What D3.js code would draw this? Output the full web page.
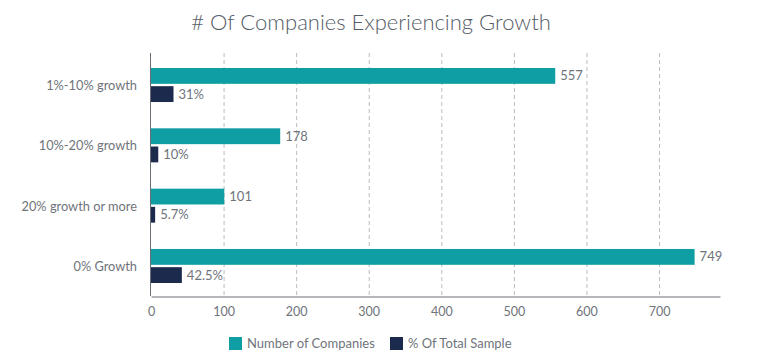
<!DOCTYPE html>
<html>
<head>
<meta charset="utf-8">
<script src="https://cdn.jsdelivr.net/npm/d3@7"></script>
<style>
  body { margin: 0; background: #fff; font-family: Lato, "Open Sans", sans-serif; }
  .tick text { fill: #6f747b; font-size: 12.5px; font-family: Lato, sans-serif; }
</style>
</head>
<body>
<div id="chart"></div>
<script>
// data
const categories = ['1%-10% growth', '10%-20% growth', '20% growth or more', '0% Growth'];
const companies = [557, 178, 101, 749];
const percentValues = [31, 10, 5.7, 42.5];
const percentLabels = ['31%', '10%', '5.7%', '42.5%'];
const xTicks = [0, 100, 200, 300, 400, 500, 600, 700];
const seriesNames = ['Number of Companies', '% Of Total Sample'];
const seriesColors = ['#0f9ea3', '#1b2a4d'];

const width = 773, height = 363;
const margin = {top: 53, right: 53, bottom: 67, left: 151};

const svg = d3.select('#chart').append('svg')
    .attr('width', width)
    .attr('height', height);

// title
svg.append('text')
    .attr('x', 371)
    .attr('y', 30)
    .attr('text-anchor', 'middle')
    .style('font-size', '22px')
    .style('font-weight', 300)
    .style('fill', '#555c66')
    .text('# Of Companies Experiencing Growth');

// scales
let x = d3.scaleLinear()
    .domain([0, 784])
    .range([margin.left, width - margin.right]);

let y0 = d3.scaleBand()
    .domain(categories)
    .range([margin.top + 1, height - margin.bottom + 1])
    .paddingInner(0.436)
    .paddingOuter(0.232);

let y1 = d3.scaleBand()
    .domain([0, 1])
    .range([0, y0.bandwidth()])
    .paddingInner(0.13);

// gridlines
svg.append('g')
    .selectAll('line')
    .data(xTicks.slice(1))
    .join('line')
    .attr('x1', d => x(d) + 0.5)
    .attr('x2', d => x(d) + 0.5)
    .attr('y1', margin.top)
    .attr('y2', height - margin.bottom)
    .attr('stroke', '#b9bcc0')
    .attr('stroke-dasharray', '4,3');

// x axis
let xAxis = svg.append('g')
    .attr('transform', `translate(0, ${height - margin.bottom + 0.5})`)
    .call(d3.axisBottom(x).tickValues(xTicks).tickSize(0).tickPadding(11));
xAxis.select('.domain').attr('stroke', '#6b6f75');

// left axis line
svg.append('line')
    .attr('x1', margin.left - 0.5)
    .attr('x2', margin.left - 0.5)
    .attr('y1', margin.top)
    .attr('y2', height - margin.bottom)
    .attr('stroke', '#6b6f75');

// category labels
svg.append('g')
    .selectAll('text')
    .data(categories)
    .join('text')
    .attr('x', margin.left - 14)
    .attr('y', d => y0(d) + y0.bandwidth() / 2 + 5)
    .attr('text-anchor', 'end')
    .style('font-size', '12.8px')
    .style('fill', '#6f747b')
    .text(d => d);

// bars
let rows = categories.map((c, i) => ({
    category: c,
    vals: [
        {series: 0, value: companies[i], label: String(companies[i])},
        {series: 1, value: percentValues[i], label: percentLabels[i]}
    ]
}));

let groups = svg.append('g')
    .selectAll('g')
    .data(rows)
    .join('g')
    .attr('transform', d => `translate(0, ${y0(d.category)})`);

groups.selectAll('rect')
    .data(d => d.vals)
    .join('rect')
    .attr('x', x(0))
    .attr('y', d => y1(d.series))
    .attr('width', d => x(d.value) - x(0))
    .attr('height', y1.bandwidth())
    .attr('fill', d => seriesColors[d.series]);

groups.selectAll('text')
    .data(d => d.vals)
    .join('text')
    .attr('x', d => x(d.value) + 5)
    .attr('y', d => y1(d.series) + y1.bandwidth() / 2 + 4.5)
    .style('font-size', '13px')
    .style('fill', '#6f747b')
    .text(d => d.label);

// legend
let legendX = [229, 390];
let legend = svg.append('g')
    .selectAll('g')
    .data(seriesNames)
    .join('g')
    .attr('transform', (d, i) => `translate(${legendX[i]}, 337)`);

legend.append('rect')
    .attr('width', 13)
    .attr('height', 13)
    .attr('fill', (d, i) => seriesColors[i]);

legend.append('text')
    .attr('x', 18)
    .attr('y', 11)
    .style('font-size', '13px')
    .style('fill', '#6f747b')
    .text(d => d);
</script>
</body>
</html>
